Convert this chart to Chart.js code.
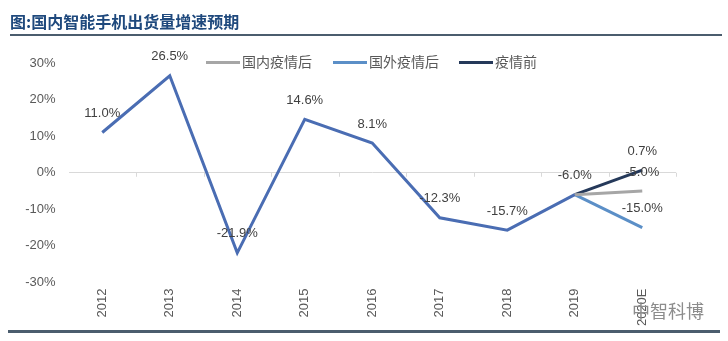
<!DOCTYPE html>
<html>
<head>
<meta charset="utf-8">
<script src="https://cdn.jsdelivr.net/npm/chart.js@4"></script>
<style>
    body { margin: 0; background: #fff; }
    #wrap { position: relative; width: 728px; height: 341px; font-family: "Liberation Sans", "Noto Sans CJK SC", sans-serif; }
    #title { position: absolute; left: 10px; top: 9px; font: bold 16px "Noto Sans CJK SC", sans-serif; line-height: 24px; color: #1f497d; }
    .rule { position: absolute; background: #4b5d6e; }
    .legend { position: absolute; top: 51px; font: 14px "Noto Sans CJK SC", sans-serif; line-height: 20px; color: #595959; }
    .legend i { display: inline-block; width: 34px; height: 3px; vertical-align: middle; margin-right: 2px; margin-top: -2px; }
    #mark { position: absolute; left: 632px; top: 298px; font: 18px "Noto Sans CJK SC", sans-serif; color: #8c8c8c; line-height: 24px; }
    canvas { position: absolute; left: 0; top: 0; }
</style>
</head>
<body>
<div id="wrap">
    <canvas id="growthChart" width="728" height="341"></canvas>
    <div id="title">图:国内智能手机出货量增速预期</div>
    <div class="rule" style="left:10px; top:34px; width:712px; height:2px;"></div>
    <div class="rule" style="left:8px; top:330px; width:712px; height:3px;"></div>
    <div id="legend"></div>
    <div id="mark">中智科博</div>
</div>
<script>
// 카테고리 / 시리즈
const years = ['2012', '2013', '2014', '2015', '2016', '2017', '2018', '2019', '2020E'];
const historyGrowth = [11.0, 26.5, -21.9, 14.6, 8.1, -12.3, -15.7, -6.0, null];
const domesticAfter = [null, null, null, null, null, null, null, -6.0, -5.0];
const overseasAfter = [null, null, null, null, null, null, null, -6.0, -15.0];
const beforeEpidemic = [null, null, null, null, null, null, null, -6.0, 0.7];
const yTicks = [-30, -20, -10, 0, 10, 20, 30];

const legendItems = [
    { text: '国内疫情后', color: '#a6a6a6', left: 206 },
    { text: '国外疫情后', color: '#5b8fc7', left: 333 },
    { text: '疫情前', color: '#25395a', left: 459 }
];

const legendBox = document.getElementById('legend');
legendItems.forEach(function(item) {
    const el = document.createElement('div');
    el.className = 'legend';
    el.style.left = item.left + 'px';
    el.innerHTML = '<i style="background:' + item.color + '"></i>' + item.text;
    legendBox.appendChild(el);
});

// 데이터 라벨
const valueLabels = {
    id: 'valueLabels',
    afterDatasetsDraw(chart) {
        const ctx = chart.ctx;
        ctx.save();
        ctx.font = '13px "Liberation Sans", sans-serif';
        ctx.fillStyle = '#404040';
        ctx.textAlign = 'center';
        ctx.textBaseline = 'middle';
        chart.data.datasets.forEach(function(ds, di) {
            const meta = chart.getDatasetMeta(di);
            ds.data.forEach(function(v, i) {
                if (v == null || i < (ds.labelFrom || 0)) return;
                const pt = meta.data[i];
                ctx.fillText(v.toFixed(1) + '%', pt.x, pt.y - 19);
            });
        });
        ctx.restore();
    }
};

// 0선 위 작은 눈금
const zeroTicks = {
    id: 'zeroTicks',
    beforeDatasetsDraw(chart) {
        const xs = chart.scales.x;
        const y0 = chart.scales.y.getPixelForValue(0);
        const ctx = chart.ctx;
        const n = years.length;
        ctx.save();
        ctx.strokeStyle = '#d9d9d9';
        ctx.lineWidth = 1;
        for (let i = 1; i <= n; i++) {
            const x = Math.round(xs.left + i * xs.width / n) + 0.5;
            ctx.beginPath();
            ctx.moveTo(x, y0);
            ctx.lineTo(x, y0 + 4);
            ctx.stroke();
        }
        ctx.restore();
    }
};

new Chart(document.getElementById('growthChart'), {
    type: 'line',
    data: {
        labels: years,
        datasets: [
            { label: '历史', data: historyGrowth, borderColor: '#4a6db3' },
            { label: '国内疫情后', data: domesticAfter, borderColor: '#a6a6a6', labelFrom: 8 },
            { label: '国外疫情后', data: overseasAfter, borderColor: '#5b8fc7', labelFrom: 8 },
            { label: '疫情前', data: beforeEpidemic, borderColor: '#25395a', labelFrom: 8 }
        ]
    },
    options: {
        responsive: false,
        animation: false,
        devicePixelRatio: 1,
        datasets: {
            line: { borderWidth: 3, pointRadius: 0, tension: 0, fill: false, spanGaps: false }
        },
        layout: { padding: { left: 0, right: 52, top: 63, bottom: 0 } },
        plugins: {
            legend: { display: false },
            tooltip: { enabled: false }
        },
        scales: {
            x: {
                offset: true,
                grid: { display: false, drawTicks: false },
                border: { display: false },
                ticks: {
                    color: '#595959',
                    font: { size: 13, family: '"Liberation Sans", sans-serif' },
                    minRotation: 90,
                    maxRotation: 90,
                    padding: 6
                },
                afterFit(scale) { scale.height = 58.5; }
            },
            y: {
                min: -30,
                max: 30,
                afterBuildTicks(scale) { scale.ticks = yTicks.map(function(v) { return { value: v }; }); },
                grid: {
                    drawTicks: false,
                    color: function(c) { return c.tick && c.tick.value === 0 ? '#d9d9d9' : 'rgba(0,0,0,0)'; }
                },
                border: { display: false },
                ticks: {
                    color: '#595959',
                    font: { size: 13, family: '"Liberation Sans", sans-serif' },
                    padding: 13,
                    callback: function(v) { return v + '%'; }
                },
                afterFit(scale) { scale.width = 68.5; }
            }
        }
    },
    plugins: [zeroTicks, valueLabels]
});
</script>
</body>
</html>
